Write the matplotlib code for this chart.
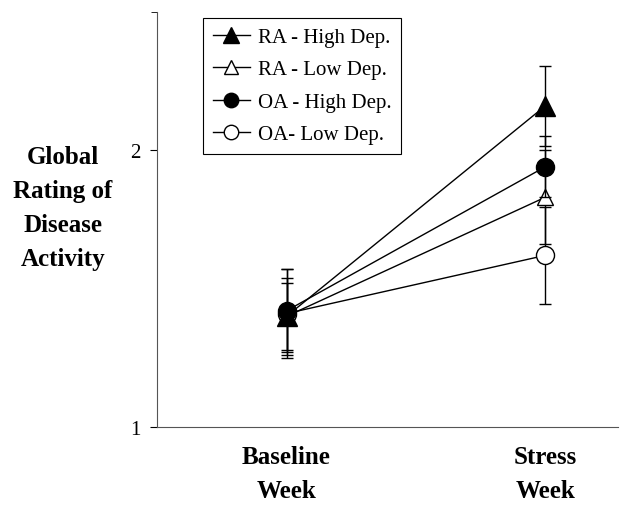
import numpy as np
import matplotlib.pyplot as plt
from matplotlib.lines import Line2D

plt.rcParams['font.family'] = ['Liberation Serif', 'DejaVu Serif']

weeks = ['Baseline\nWeek', 'Stress\nWeek']
labels = ['RA - High Dep.', 'RA - Low Dep.', 'OA - High Dep.', 'OA- Low Dep.']
ra_high = [1.40, 2.16]
ra_low = [1.40, 1.83]
oa_high = [1.42, 1.94]
oa_low = [1.41, 1.62]
ra_high_err = [0.14, 0.145]
ra_low_err = [0.12, 0.17]
oa_high_err = [0.15, 0.11]
oa_low_err = [0.16, 0.175]

series = [ra_high, ra_low, oa_high, oa_low]
errors = [ra_high_err, ra_low_err, oa_high_err, oa_low_err]
markers = ['^', '^', 'o', 'o']
fills = ['black', 'white', 'black', 'white']
sizes = [14, 12, 13, 13]
zorders = [4, 2, 5, 3]

fig = plt.figure(figsize=(6.26, 5.06), dpi=100)
ax = fig.add_axes([0.251, 0.154, 0.736, 0.821])

x = np.arange(1, len(weeks) + 1)
handles = []
for vals, err, m, fc, ms, lab, z in zip(series, errors, markers, fills, sizes, labels, zorders):
    ax.errorbar(x, vals, yerr=err, color='black', lw=1.0, elinewidth=1.0,
                capsize=4, capthick=1.0, marker=m, markersize=ms,
                markerfacecolor=fc, markeredgecolor='black', markeredgewidth=1.0,
                zorder=z)
    handles.append(Line2D([], [], color='black', lw=1.0, marker=m, markersize=ms * 0.8,
                          markerfacecolor=fc, markeredgecolor='black', label=lab))

ax.set_xlim(0.5, 2.28)
ax.set_ylim(1, 2.5)
ax.set_yticks([1, 2])
ax.set_yticks([2.5], minor=True)
ax.tick_params(axis='y', which='major', direction='out', length=5, labelsize=15, pad=7)
ax.tick_params(axis='y', which='minor', direction='out', length=4)
ax.set_xticks(x)
ax.set_xticklabels(weeks, fontsize=18, fontweight='bold', linespacing=1.58)
ax.tick_params(axis='x', length=0, pad=13)
for s in ['top', 'right']:
    ax.spines[s].set_visible(False)
for s in ['left', 'bottom']:
    ax.spines[s].set_color('#555555')

fig.text(0.1, 0.588, 'Global\nRating of\nDisease\nActivity', ha='center', va='center',
         fontsize=18, fontweight='bold', linespacing=1.6)

leg = ax.legend(handles=handles, loc='upper left', bbox_to_anchor=(0.1, 0.985),
                borderaxespad=0, fontsize=15, fancybox=False, framealpha=1,
                edgecolor='black', handlelength=1.8, handletextpad=0.4,
                labelspacing=0.62, borderpad=0.45)
leg.get_frame().set_linewidth(0.8)

fig.savefig('out.png', dpi=100)
